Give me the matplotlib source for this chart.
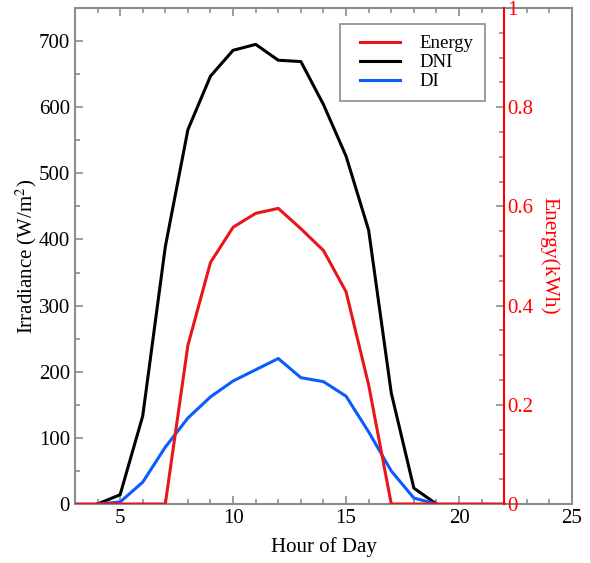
import numpy as np
import matplotlib.pyplot as plt
from matplotlib.ticker import MultipleLocator
from matplotlib.lines import Line2D
from matplotlib.legend_handler import HandlerLine2D

plt.rcParams['font.family'] = ['Liberation Serif', 'DejaVu Serif']
plt.rcParams['mathtext.fontset'] = 'stix'

# hours and series
hours = [4, 5, 6, 7, 8, 9, 10, 11, 12, 13, 14, 15, 16, 17, 18, 19]
dni = [0, 14, 133, 389, 566, 647, 686, 695, 671, 669, 604, 526, 414, 168, 24, 0]
di = [0, 3, 33, 86, 130, 162, 186, 203, 220, 191, 185, 163, 109, 50, 9, 0]

energy_hours = [3, 4, 5, 6, 7, 8, 9, 10, 11, 12, 13, 14, 15, 16, 17, 18, 19, 20, 21, 22]
energy = [0, 0, 0, 0, 0, 0.32, 0.487, 0.558, 0.586, 0.596, 0.555, 0.511, 0.428, 0.24,
          0, 0, 0, 0, 0, 0]

grey = '#8c8c8c'
red = '#ff0000'
fs = 15

fig = plt.figure(figsize=(5.9, 5.63), dpi=100)
ax = fig.add_axes([0.127, 0.1048, 0.8425, 0.881])

l_dni, = ax.plot(hours, dni, color='black', lw=2.2, label='DNI')
l_di, = ax.plot(hours, di, color='#0a5cff', lw=2.2, label='DI')

ax.set_xlim(3, 25)
ax.set_ylim(0, 750)
ax.xaxis.set_major_locator(MultipleLocator(5))
ax.xaxis.set_minor_locator(MultipleLocator(1))
ax.yaxis.set_major_locator(MultipleLocator(100))
ax.yaxis.set_minor_locator(MultipleLocator(50))
ax.tick_params(which='both', direction='in', top=True, color=grey, labelsize=fs, width=1.2)
ax.tick_params(which='major', length=6)
ax.tick_params(which='minor', length=3.5)
for s in ax.spines.values():
    s.set_color(grey)
    s.set_linewidth(1.5)

ax.set_xlabel('Hour of Day', fontsize=fs, labelpad=7)
ax.set_ylabel('Irradiance (W/m$^2$)', fontsize=fs, labelpad=0)

# energy on a twin axis whose spine sits at x = 22
ax2 = ax.twinx()
l_en, = ax2.plot(energy_hours, energy, color='#e8161b', lw=2.2, label='Energy')
ax2.set_ylim(0, 1)
ax2.spines['right'].set_position(('data', 22))
ax2.spines['right'].set_color(red)
ax2.spines['right'].set_linewidth(1.5)
for k in ['left', 'top', 'bottom']:
    ax2.spines[k].set_visible(False)
ax2.yaxis.set_minor_locator(MultipleLocator(0.05))
ax2.set_yticks([0, 0.2, 0.4, 0.6, 0.8, 1.0])
ax2.set_yticklabels(['0', '0.2', '0.4', '0.6', '0.8', '1'])
ax2.tick_params(axis='y', which='both', direction='in', color=grey, labelcolor=red,
                labelsize=fs, width=1.2, pad=2)
ax2.tick_params(axis='y', which='major', length=6)
ax2.tick_params(axis='y', which='minor', length=3.5)
ax2.set_ylabel('Energy(kWh)', color=red, fontsize=15.5, rotation=270)
ax2.yaxis.set_label_coords(0.974, 0.5)

leg = ax2.legend([l_en, l_dni, l_di], ['Energy', 'DNI', 'DI'], loc='upper left',
                 bbox_to_anchor=(0.533, 0.968), fontsize=13.5, frameon=True, fancybox=False,
                 handlelength=2.6, handletextpad=1.05, borderpad=0.6, labelspacing=0.1,
                 borderaxespad=0, handler_map={Line2D: HandlerLine2D(xpad=0.45)})
leg.get_frame().set_edgecolor('#707070')
leg.get_frame().set_linewidth(1.2)

fig.savefig('out.png', dpi=100)
